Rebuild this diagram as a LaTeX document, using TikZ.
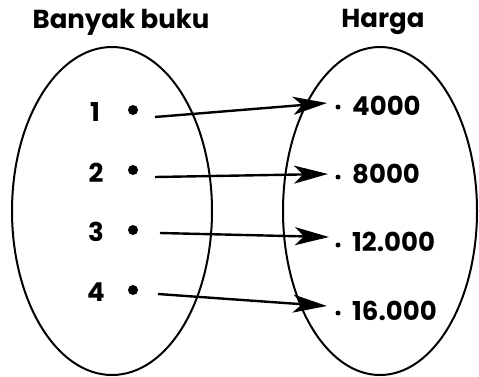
\documentclass[tikz,border=0pt]{standalone}
\usepackage{fontspec}
\setmainfont{Poppins}
\usepackage{tikz}
\usetikzlibrary{arrows.meta}

\begin{document}
\begin{tikzpicture}[x=1pt, y=-1pt]
\tikzset{bigdot/.style = {shape=circle, fill=black, inner sep=0pt, minimum size=10pt}}
\tikzset{smalldot/.style = {shape=circle, fill=black, inner sep=0pt, minimum size=5pt}}
\tikzset{lbl/.style = {font=\fontsize{26}{30}\selectfont\bfseries, inner sep=0pt}}
\tikzset{arr/.style = {draw=black, line width=2.4pt, -{Stealth[length=34pt, width=18pt, inset=9pt]}}}
\useasboundingbox (0,0) rectangle (479,376);

% the two sets
\draw[black, line width=2pt] (112,211) ellipse [x radius=100, y radius=164];
\draw[black, line width=2pt] (380,211) ellipse [x radius=97, y radius=164];
\node[lbl] (T1) at (121,22) {Banyak buku};
\node[lbl] (T2) at (383,22) {Harga};

% left set
\node[lbl] (n1) at (95,112) {1};
\node[lbl] (n2) at (96,173) {2};
\node[lbl] (n3) at (96,232) {3};
\node[lbl] (n4) at (96,292) {4};
\node[bigdot] (a1) at (133,110) {};
\node[bigdot] (a2) at (133,170) {};
\node[bigdot] (a3) at (133,230) {};
\node[bigdot] (a4) at (133,290) {};

% right set
\node[smalldot] (b1) at (338,107) {};
\node[smalldot] (b2) at (338,177) {};
\node[smalldot] (b3) at (338,245) {};
\node[smalldot] (b4) at (338,313) {};
\node[lbl, anchor=west] (m1) at (352,106) {4000};
\node[lbl, anchor=west] (m2) at (352,174) {8000};
\node[lbl, anchor=west] (m3) at (352,242) {12.000};
\node[lbl, anchor=west] (m4) at (352,311) {16.000};

% start points of the arrows
\coordinate (s1) at (155,117);
\coordinate (s2) at (155,177);
\coordinate (s3) at (160,233);
\coordinate (s4) at (158,294);
\coordinate (e1) at (327,103);
\coordinate (e2) at (328,174);
\coordinate (e3) at (329,237);
\coordinate (e4) at (327,306);

% the mapping
\draw[arr] (s1) to (e1);
\draw[arr] (s2) to (e2);
\draw[arr] (s3) to (e3);
\draw[arr] (s4) to (e4);
\end{tikzpicture}
\end{document}
